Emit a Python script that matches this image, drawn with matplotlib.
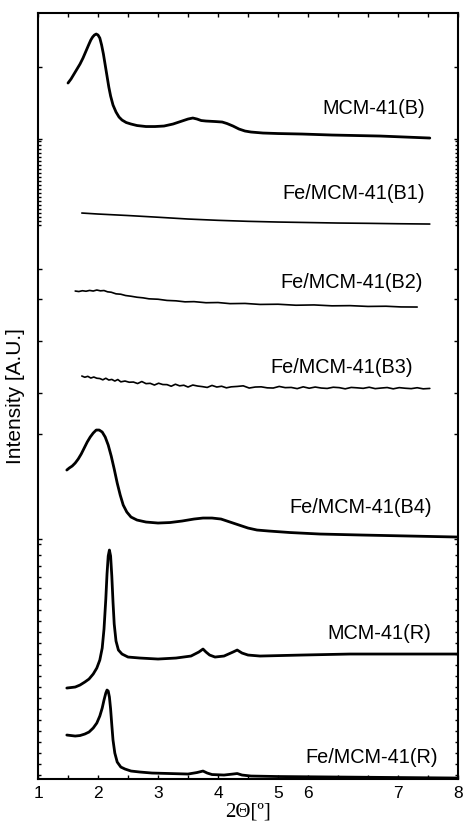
import numpy as np
import matplotlib
matplotlib.use('Agg')
import matplotlib.pyplot as plt

plt.rcParams['font.family'] = ['Liberation Sans', 'DejaVu Sans']

# sample names, top to bottom
names = ['MCM-41(B)', 'Fe/MCM-41(B1)', 'Fe/MCM-41(B2)', 'Fe/MCM-41(B3)',
         'Fe/MCM-41(B4)', 'MCM-41(R)', 'Fe/MCM-41(R)']

# 2theta [deg] and intensity [A.U.] (relative to each pattern's tail)
tt_B = [1.50, 1.55, 1.60, 1.65, 1.70, 1.75, 1.80, 1.85, 1.88, 1.91, 1.94, 1.97, 2.00, 2.03,
        2.06, 2.09, 2.12, 2.15, 2.18, 2.21, 2.25, 2.30, 2.35, 2.40, 2.47, 2.55, 2.65, 2.80,
        2.95, 3.10, 3.25, 3.40, 3.50, 3.58, 3.65, 3.72, 3.80, 3.95, 4.07, 4.15, 4.25, 4.35,
        4.45, 4.55, 4.75, 5.00, 5.40, 5.90, 6.70, 7.53]
ii_B = [0.55, 0.59, 0.64, 0.69, 0.74, 0.80, 0.87, 0.94, 0.98, 1.01, 1.03, 1.04, 1.03, 1.00,
        0.93, 0.84, 0.73, 0.62, 0.51, 0.42, 0.33, 0.26, 0.21, 0.18, 0.155, 0.14, 0.125, 0.115,
        0.115, 0.12, 0.14, 0.17, 0.19, 0.20, 0.19, 0.175, 0.17, 0.165, 0.16, 0.145, 0.12, 0.09,
        0.07, 0.06, 0.05, 0.045, 0.04, 0.03, 0.02, 0.00]

tt_B1 = [1.73, 2.00, 2.50, 3.00, 3.50, 4.00, 4.50, 5.00, 5.50, 6.00, 6.50, 7.00, 7.53]
ii_B1 = [0.11, 0.10, 0.085, 0.068, 0.05, 0.037, 0.027, 0.02, 0.015, 0.01, 0.007, 0.003, 0.00]

tt_B2 = [1.62, 1.68, 1.74, 1.80, 1.86, 1.92, 1.98, 2.04, 2.10, 2.16, 2.22, 2.30, 2.38, 2.46,
         2.55, 2.65, 2.75, 2.85, 3.00, 3.15, 3.30, 3.45, 3.60, 3.80, 4.00, 4.20, 4.45, 4.70,
         5.00, 5.30, 5.60, 5.90, 6.20, 6.50, 6.80, 7.05, 7.32]
ii_B2 = [0.16, 0.155, 0.163, 0.158, 0.166, 0.16, 0.17, 0.162, 0.165, 0.152, 0.148, 0.132,
         0.128, 0.115, 0.108, 0.098, 0.092, 0.082, 0.078, 0.066, 0.062, 0.052, 0.054, 0.043,
         0.045, 0.034, 0.036, 0.026, 0.028, 0.018, 0.021, 0.012, 0.014, 0.006, 0.008, 0.001,
         0.00]

tt_B3 = [1.73, 1.78, 1.83, 1.88, 1.93, 1.98, 2.03, 2.08, 2.13, 2.18, 2.23, 2.28, 2.33, 2.38,
         2.45, 2.52, 2.59, 2.66, 2.73, 2.80, 2.87, 2.94, 3.01, 3.08, 3.15, 3.22, 3.29, 3.36,
         3.43, 3.50, 3.58, 3.66, 3.74, 3.82, 3.90, 3.98, 4.06, 4.14, 4.22, 4.32, 4.42, 4.52,
         4.62, 4.72, 4.82, 4.92, 5.02, 5.12, 5.22, 5.32, 5.42, 5.52, 5.62, 5.72, 5.82, 5.92,
         6.02, 6.12, 6.22, 6.32, 6.42, 6.52, 6.62, 6.72, 6.82, 6.92, 7.02, 7.12, 7.22, 7.32,
         7.42, 7.53]
ii_B3 = [0.12, 0.108, 0.117, 0.10, 0.11, 0.098, 0.095, 0.082, 0.098, 0.08, 0.086, 0.07, 0.085,
         0.062, 0.07, 0.058, 0.06, 0.045, 0.065, 0.044, 0.047, 0.03, 0.048, 0.035, 0.034,
         0.018, 0.038, 0.022, 0.028, 0.01, 0.03, 0.02, 0.014, 0.006, 0.026, 0.01, 0.018,
         0.002, 0.012, 0.016, 0.022, 0.0, 0.01, 0.012, 0.002, 0.0, 0.016, 0.004, 0.006, -0.006,
         0.012, -0.002, 0.01, 0.0, -0.004, 0.008, 0.004, -0.008, 0.006, 0.002, -0.003, 0.008,
         -0.006, 0.0, 0.005, -0.008, 0.004, -0.002, -0.006, 0.003, -0.008, -0.004]

tt_B4 = [1.48, 1.52, 1.57, 1.62, 1.67, 1.72, 1.77, 1.82, 1.87, 1.92, 1.97, 2.02, 2.07, 2.12,
         2.17, 2.22, 2.27, 2.32, 2.37, 2.42, 2.48, 2.55, 2.65, 2.80, 3.00, 3.20, 3.40, 3.60,
         3.75, 3.90, 4.05, 4.20, 4.35, 4.50, 4.65, 4.85, 5.20, 5.70, 6.40, 7.20, 8.00]
ii_B4 = [0.67, 0.69, 0.71, 0.74, 0.78, 0.83, 0.89, 0.95, 1.00, 1.04, 1.07, 1.07, 1.05, 1.00,
         0.92, 0.81, 0.68, 0.54, 0.42, 0.32, 0.25, 0.20, 0.17, 0.15, 0.14, 0.145, 0.16, 0.18,
         0.19, 0.19, 0.18, 0.15, 0.12, 0.09, 0.07, 0.06, 0.045, 0.03, 0.02, 0.01, 0.00]

tt_R = [1.48, 1.55, 1.62, 1.70, 1.78, 1.85, 1.92, 1.98, 2.03, 2.07, 2.10, 2.13, 2.15, 2.17,
        2.19, 2.21, 2.23, 2.25, 2.27, 2.30, 2.34, 2.40, 2.50, 2.70, 3.00, 3.30, 3.55, 3.68,
        3.75, 3.80, 3.86, 3.95, 4.10, 4.25, 4.32, 4.40, 4.50, 4.70, 5.40, 6.20, 8.00]
ii_R = [-0.34, -0.335, -0.33, -0.31, -0.28, -0.25, -0.20, -0.14, -0.06, 0.06, 0.25, 0.55,
        0.80, 0.98, 1.04, 0.98, 0.78, 0.52, 0.30, 0.13, 0.04, 0.00, -0.03, -0.04, -0.05,
        -0.04, -0.02, 0.02, 0.05, 0.02, -0.01, -0.03, -0.02, 0.02, 0.04, 0.01, -0.01, -0.02,
        -0.01, 0.00, 0.00]

tt_FeR = [1.48, 1.55, 1.62, 1.70, 1.78, 1.85, 1.92, 1.98, 2.03, 2.07, 2.10, 2.13, 2.15, 2.17,
          2.19, 2.21, 2.23, 2.25, 2.28, 2.32, 2.38, 2.45, 2.55, 2.70, 2.90, 3.20, 3.50, 3.65,
          3.75, 3.82, 3.90, 4.10, 4.25, 4.32, 4.40, 4.55, 5.00, 6.00, 8.00]
ii_FeR = [0.42, 0.415, 0.41, 0.415, 0.43, 0.45, 0.49, 0.54, 0.61, 0.69, 0.77, 0.84, 0.87, 0.86,
          0.80, 0.68, 0.52, 0.37, 0.24, 0.15, 0.10, 0.08, 0.06, 0.05, 0.04, 0.035, 0.03, 0.045,
          0.06, 0.04, 0.025, 0.02, 0.03, 0.035, 0.02, 0.01, 0.005, 0.00, -0.01]

patterns = [(tt_B, ii_B), (tt_B1, ii_B1), (tt_B2, ii_B2), (tt_B3, ii_B3),
            (tt_B4, ii_B4), (tt_R, ii_R), (tt_FeR, ii_FeR)]

# stacking offsets and label anchors (right edge, centre) in plot units
offsets = [6.41, 5.55, 4.72, 3.91, 2.42, 1.25, 0.02]
label_x = [7.45, 7.45, 7.42, 7.25, 7.57, 7.55, 7.67]
label_y = [6.71, 5.86, 4.97, 4.12, 2.72, 1.46, 0.22]
widths = [2.0, 1.2, 1.2, 1.2, 2.0, 2.0, 2.0]

# tick marks on the intensity axis (no labels)
ymajor = [7.12, 6.40, 5.10, 4.80, 4.38, 3.86, 3.45, 2.40]
yminor = list(np.arange(5.54, 6.40, 0.04)) + list(np.arange(0.04, 2.40, 0.11))
xlabels_at = [1, 2, 3, 4, 5, 5.5, 7, 8]
xlabels = ['1', '2', '3', '4', '5', '6', '7', '8']

fig = plt.figure(figsize=(4.63, 8.30), dpi=100)
ax = fig.add_axes([0.0821, 0.0614, 0.9071, 0.9229])

for ii in range(len(patterns)):
    tt, inten = patterns[ii]
    ax.plot(tt, np.array(inten) + offsets[ii], color='black', lw=widths[ii],
            solid_joinstyle='round', solid_capstyle='round')
    ax.text(label_x[ii], label_y[ii], names[ii], ha='right', va='center', fontsize=14.3)

ax.set_xlim(1, 8)
ax.set_ylim(0, 7.66)
ax.set_xticks(xlabels_at)
ax.set_xticklabels(xlabels, fontsize=12.5)
ax.set_xticks(np.arange(1, 8.01, 0.5), minor=True)
ax.set_yticks(ymajor)
ax.set_yticks(yminor, minor=True)
ax.set_yticklabels([])
ax.tick_params(which='both', direction='in', top=True, right=True, length=3, width=1)
ax.tick_params(axis='y', which='minor', length=2)
ax.tick_params(axis='x', which='major', pad=5)
for sp in ax.spines.values():
    sp.set_linewidth(1.5)

ax.set_xlabel('2\u0398[\u00ba]', family=['Liberation Serif', 'DejaVu Serif'], fontsize=15, labelpad=1)
ax.set_ylabel('Intensity [A.U.]', fontsize=15, labelpad=6)

fig.savefig('out.png', dpi=100)
